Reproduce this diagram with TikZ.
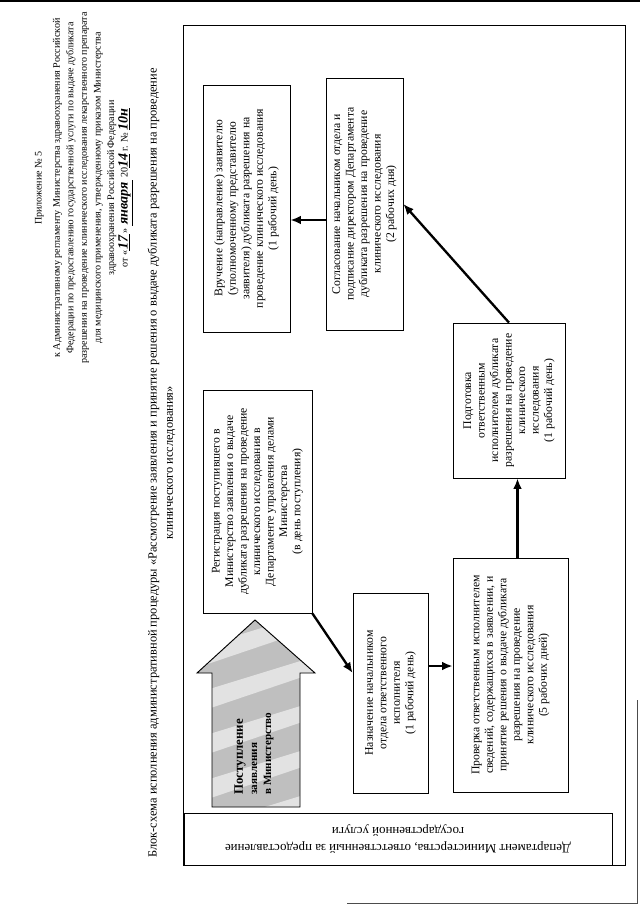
\documentclass[tikz,border=0pt]{standalone}
\usepackage{fontspec}
\setmainfont{Liberation Serif}
\usetikzlibrary{arrows.meta,calc}

\begin{document}
\begin{tikzpicture}[x=0.03cm,y=-0.03cm,
  stage/.style={draw,line width=0.6pt,rotate=90,align=center,inner sep=0pt,
    font=\fontsize{10}{11.5}\selectfont},
  arr/.style={line width=2pt,-{Latex[length=9pt,width=7.5pt]}}]
  \useasboundingbox (0,0) rectangle (640,905);
  \fill[white] (0,0) rectangle (640,905);
  % edges of the scanned sheet
  \draw[line width=2pt] (0,1) -- (640,1);
  \draw[line width=0.6pt,black!70] (347,903) -- (637,903) -- (637,700);

  % heading
  \node[rotate=90,align=center,font=\fontsize{8.6}{11.6}\selectfont] (hdr) at (84,188)
    {Приложение № 5\\[4pt]
     к Административному регламенту Министерства здравоохранения Российской\\
     Федерации по предоставлению государственной услуги по выдаче дубликата\\
     разрешения на проведение клинического исследования лекарственного препарата\\
     для медицинского применения, утвержденному приказом Министерства\\
     здравоохранения Российской Федерации\\
     от «\underline{\,{\itshape\bfseries\large 17}\,}» \underline{\,{\itshape\bfseries\large января}\,}
     20\underline{{\itshape\bfseries\large 14}} г. № \underline{{\itshape\bfseries\large 10н}}};
  \node[rotate=90,align=center,font=\fontsize{10.6}{14}\selectfont] (title) at (161.5,463)
    {Блок-схема исполнения административной процедуры «Рассмотрение заявления и принятие решения о выдаче дубликата разрешения на проведение\\
     клинического исследования»};

  % frame and department lane
  \draw[line width=0.6pt] (183,25) rectangle (625,865);
  \node[draw,line width=0.6pt,rotate=180,align=center,inner sep=0pt,
    minimum width=12.84cm,minimum height=1.56cm,
    font=\fontsize{11}{13.7}\selectfont] (dept) at (398,839)
    {Департамент Министерства, ответственный за предоставление\\государственной услуги};

  % incoming application
  \begin{scope}
    \clip (255,620) -- (315,673) -- (300,673) -- (300,807) -- (212,807)
      -- (212,673) -- (197,673) -- cycle;
    \fill[gray!50] (190,610) rectangle (320,810);
    \foreach \d in {0,45,...,270}
      \fill[white,opacity=0.55] (190,560+\d) -- (320,520+\d) -- (320,536+\d) -- (190,580+\d) -- cycle;
  \end{scope}
  \draw[line width=0.8pt] (255,620) -- (315,673) -- (300,673) -- (300,807) -- (212,807)
    -- (212,673) -- (197,673) -- cycle;
  \node[rotate=90,anchor=west,align=left,inner sep=0pt,font=\bfseries\fontsize{9.5}{12}\selectfont]
    (inflow) at (254,795) {{\fontsize{11}{12}\selectfont Поступление}\\заявления\\в Министерство};

  % stages
  \node[stage,minimum width=7.41cm,minimum height=2.61cm] (A) at (246.5,208.5)
    {Вручение (направление) заявителю\\(уполномоченному представителю\\заявителя) дубликата разрешения на\\проведение клинического исследования\\(1 рабочий день)};
  \node[stage,minimum width=7.56cm,minimum height=2.31cm] (B) at (364.5,204)
    {Согласование начальником отдела и\\подписание директором Департамента\\дубликата разрешения на проведение\\клинического исследования\\(2 рабочих дня)};
  \node[stage,minimum width=6.69cm,minimum height=3.27cm] (C) at (257.5,501.5)
    {Регистрация поступившего в\\Министерство заявления о выдаче\\дубликата разрешения на проведение\\клинического исследования в\\Департаменте управления делами\\Министерства\\(в день поступления)};
  \node[stage,minimum width=6cm,minimum height=2.25cm] (E) at (390.5,693)
    {Назначение начальником\\отдела ответственного\\исполнителя\\(1 рабочий день)};
  \node[stage,minimum width=7.02cm,minimum height=3.45cm] (F) at (510.5,675)
    {Проверка ответственным исполнителем\\сведений, содержащихся в заявлении, и\\принятие решения о выдаче дубликата\\разрешения на проведение\\клинического исследования\\(5 рабочих дней)};
  \node[stage,minimum width=4.65cm,minimum height=3.36cm] (D) at (509,400.5)
    {Подготовка\\ответственным\\исполнителем дубликата\\разрешения на проведение\\клинического\\исследования\\(1 рабочий день)};

  % flow
  \draw[arr] (C.south west) -- ($(E.north)+(0,-20)$);
  \draw[arr] ($(E.south)+(0,-27)$) -- ($(F.north)+(0,-9)$);
  \draw[arr] ($(F.east)+(7,0)$) -- ($(D.west)+(8.5,0)$);
  \draw[arr] (D.east) -- (B.south);
  \draw[arr] ($(B.north)+(0,16)$) -- ($(A.south)+(0,11.5)$);
\end{tikzpicture}
\end{document}
